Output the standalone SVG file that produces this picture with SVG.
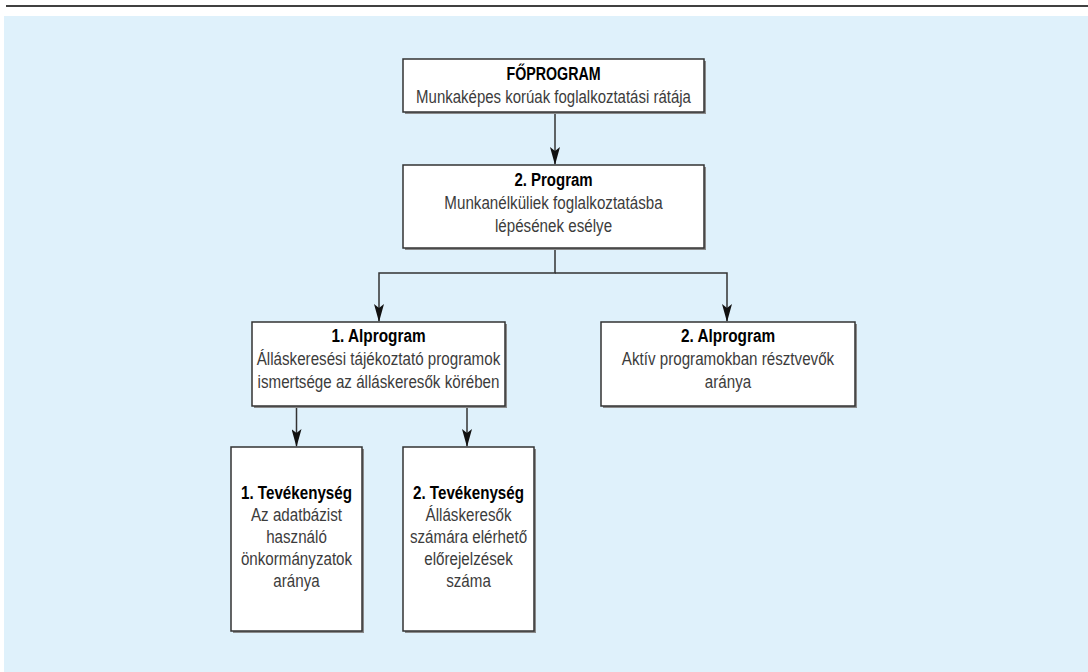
<svg xmlns="http://www.w3.org/2000/svg" width="1088" height="672" viewBox="0 0 1088 672">
<defs>
<style>
.box{fill:#fff;stroke:#333;stroke-width:1.5}
.sh{fill:#8a8a8a}
.t{font-family:"Liberation Sans",Arial,sans-serif;font-size:18.5px;text-anchor:middle}
.h{fill:#000;font-weight:bold}
.b{fill:#3c3c3c}
.c{fill:none;stroke:#333;stroke-width:1.5}
</style>
<marker id="ah" markerWidth="18" markerHeight="10" refX="17" refY="5" orient="auto" markerUnits="userSpaceOnUse" viewBox="0 0 18 10">
<path d="M0,0 L4,5 L0,10 L18,5 Z" fill="#111"/>
</marker>
</defs>
<rect x="0" y="0" width="1088" height="672" fill="#fff"/>
<line x1="6" y1="6" x2="1088" y2="6" stroke="#000" stroke-width="1.5"/>
<rect x="4" y="16" width="1084" height="656" fill="#DFF1FB"/>

<g id="connectors">
<path class="c" d="M555,113 V164" marker-end="url(#ah)"/>
<path class="c" d="M555,249 V273 H379 V321" marker-end="url(#ah)"/>
<path class="c" d="M555,273 H727 V321" marker-end="url(#ah)"/>
<path class="c" d="M296.5,407 V446" marker-end="url(#ah)"/>
<path class="c" d="M467,407 V446" marker-end="url(#ah)"/>
</g>

<g id="n-foprogram">
<rect class="sh" x="405" y="61" width="301" height="53"/>
<rect class="box" x="403" y="59" width="301" height="53"/>
<text class="t h" transform="translate(553.5,80) scale(0.77,1)">FŐPROGRAM</text>
<text class="t b" transform="translate(553.5,103) scale(0.81,1)">Munkaképes korúak foglalkoztatási rátája</text>
</g>

<g id="n-program2">
<rect class="sh" x="405" y="167" width="301" height="83"/>
<rect class="box" x="403" y="165" width="301" height="83"/>
<text class="t h" transform="translate(553.5,186) scale(0.81,1)">2. Program</text>
<text class="t b" transform="translate(553.5,209) scale(0.82,1)">Munkanélküliek foglalkoztatásba</text>
<text class="t b" transform="translate(553.5,232) scale(0.82,1)">lépésének esélye</text>
</g>

<g id="n-alprogram1">
<rect class="sh" x="254" y="324" width="253" height="84"/>
<rect class="box" x="252" y="322" width="253" height="84"/>
<text class="t h" transform="translate(378.5,342) scale(0.83,1)">1. Alprogram</text>
<text class="t b" transform="translate(378.5,365) scale(0.82,1)">Álláskeresési tájékoztató programok</text>
<text class="t b" transform="translate(378.5,388) scale(0.82,1)">ismertsége az álláskeresők körében</text>
</g>

<g id="n-alprogram2">
<rect class="sh" x="603" y="324" width="254" height="84"/>
<rect class="box" x="601" y="322" width="254" height="84"/>
<text class="t h" transform="translate(728,342) scale(0.83,1)">2. Alprogram</text>
<text class="t b" transform="translate(728,365) scale(0.82,1)">Aktív programokban résztvevők</text>
<text class="t b" transform="translate(728,388) scale(0.82,1)">aránya</text>
</g>

<g id="n-tev1">
<rect class="sh" x="233" y="449" width="131" height="184"/>
<rect class="box" x="231" y="447" width="131" height="184"/>
<text class="t h" transform="translate(296.5,499) scale(0.82,1)">1. Tevékenység</text>
<text class="t b" transform="translate(296.5,521) scale(0.82,1)">Az adatbázist</text>
<text class="t b" transform="translate(296.5,543) scale(0.82,1)">használó</text>
<text class="t b" transform="translate(296.5,565) scale(0.82,1)">önkormányzatok</text>
<text class="t b" transform="translate(296.5,587) scale(0.82,1)">aránya</text>
</g>

<g id="n-tev2">
<rect class="sh" x="405" y="449" width="131" height="184"/>
<rect class="box" x="403" y="447" width="131" height="184"/>
<text class="t h" transform="translate(468.5,499) scale(0.82,1)">2. Tevékenység</text>
<text class="t b" transform="translate(468.5,521) scale(0.82,1)">Álláskeresők</text>
<text class="t b" transform="translate(468.5,543) scale(0.82,1)">számára elérhető</text>
<text class="t b" transform="translate(468.5,565) scale(0.82,1)">előrejelzések</text>
<text class="t b" transform="translate(468.5,587) scale(0.82,1)">száma</text>
</g>
</svg>
